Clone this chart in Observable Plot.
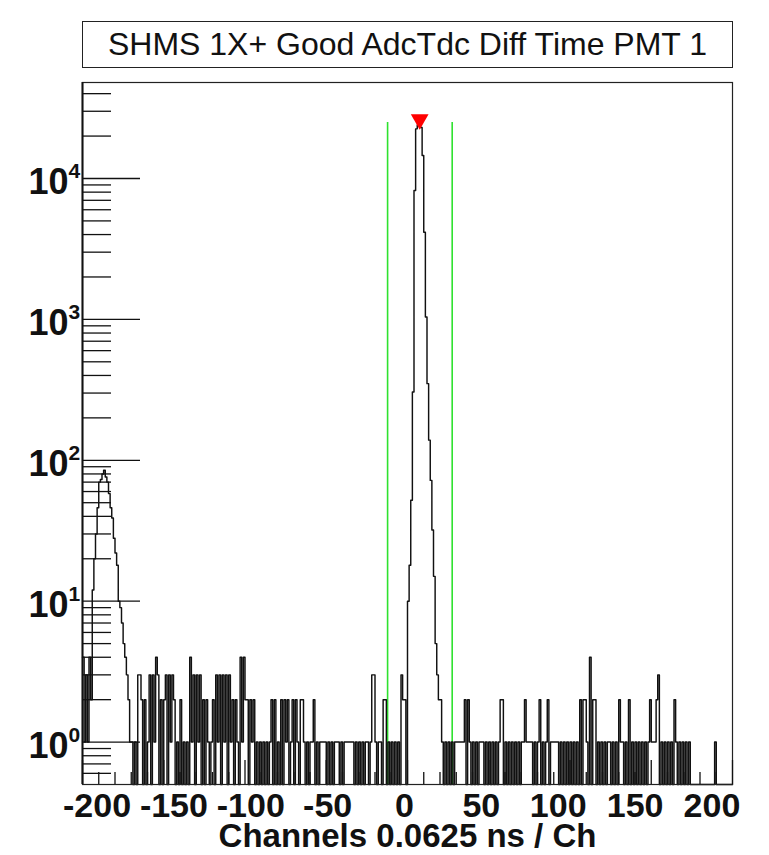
<!DOCTYPE html>
<html><head><meta charset="utf-8">
<script src="https://cdn.jsdelivr.net/npm/d3@7"></script>
<script src="https://cdn.jsdelivr.net/npm/@observablehq/plot@0.6"></script>
<style>
body{margin:0;background:#fff;font-family:"Liberation Sans",Arial,sans-serif;}
#wrap{position:relative;width:769px;height:855px;overflow:hidden;}
#title{position:absolute;left:82px;top:21px;width:651px;height:47px;box-sizing:border-box;border:1.5px solid #222;text-align:center;font-size:32px;line-height:44px;color:#111;z-index:2;background:#fff;}
#chart{position:absolute;left:0;top:0;}
</style></head><body>
<div id="wrap"><div id="title"></div><div id="chart"></div></div>
<script>
const titleText = "SHMS 1X+ Good AdcTdc Diff Time PMT 1";
const axisTitle = "Channels 0.0625 ns / Ch";
const xDomain = [-200, 200];
const binWidth = 1;
// counts per bin, bins of width 1 starting at -200
const counts = [
  4,1,3,1,4,2,12,20,30,46,             // -200..-191
  70,73,80,85,76,70,58,46,39,28,       // -190..-181
  22,18,10,9,7,5,4,3,2,1,              // -180..-171
  1,0,1,0,3,3,2,0,2,0,                 // -170..-161
  1,3,0,3,1,4,3,0,2,0,                 // -160..-151
  2,3,0,3,1,3,2,0,1,0,                 // -150..-141
  2,0,1,0,1,0,4,1,3,0,                 // -140..-131
  3,1,3,0,2,0,2,1,0,1,                 // -130..-121
  2,0,3,1,3,0,3,1,3,0,                 // -120..-111
  3,1,2,0,2,1,0,4,1,4,                 // -110..-101
  2,2,0,2,1,2,0,1,0,1,                 // -100..-91
  0,1,0,1,0,1,2,0,2,0,                 // -90..-81
  1,0,2,0,2,1,2,0,1,2,                 // -80..-71
  0,2,1,0,2,2,1,0,1,0,                 // -70..-61
  1,1,2,0,1,0,1,1,1,1,                 // -60..-51
  0,1,0,1,0,1,1,1,0,1,                 // -50..-41
  0,1,1,1,1,1,1,0,1,0,                 // -40..-31
  1,0,1,0,1,1,0,1,3,3,                 // -30..-21
  1,0,1,1,0,2,2,0,1,0,                 // -20..-11
  1,0,1,0,1,0,3,2,2,0,                 // -10..-1
  10,18,52,305,8220,22500,24000,25000,23000,14560, // 0..9
  4160,1040,350,139,72,32,15,5,3,2,    // 10..19
  2,1,0,1,0,1,0,1,0,1,                 // 20..29
  1,1,1,1,1,2,0,2,1,0,                 // 30..39
  1,0,1,0,1,1,1,0,1,0,                 // 40..49
  1,0,1,0,1,0,1,2,2,0,                 // 50..59
  1,0,1,0,1,0,1,0,1,0,                 // 60..69
  1,1,2,1,1,1,1,0,1,0,                 // 70..79
  1,2,0,1,0,1,2,0,1,1,                 // 80..89
  1,1,1,0,1,0,1,0,1,0,                 // 90..99
  1,0,1,0,1,0,2,0,2,2,                 // 100..109
  1,0,4,0,2,2,0,1,0,1,                 // 110..119
  0,1,0,1,1,0,1,0,1,0,                 // 120..129
  2,1,1,0,1,0,2,0,1,0,                 // 130..139
  1,0,1,0,1,0,1,0,1,2,                 // 140..149
  1,1,1,2,3,0,1,0,1,0,                 // 150..159
  1,0,1,0,2,1,0,1,0,1,                 // 160..169
  0,1,0,1,0,0,0,0,0,0,                 // 170..179
  0,0,0,0,0,0,0,0,0,1,                 // 180..189
  0,0,0,0,0,0,0,0,0,0                  // 190..199
];
const yDomain = [0.5, 48000];
const xTickLabels = [-200, -150, -100, -50, 0, 50, 100, 150, 200];
const xMinorTicks = d3.range(-190, 200, 10).filter(v => v % 50 !== 0);
const yDecades = [0, 1, 2, 3, 4];
const yMinorTicks = [0.6,0.7,0.8,0.9,2,3,4,5,6,7,8,9,20,30,40,50,60,70,80,90,200,300,400,500,600,700,800,900,2000,3000,4000,5000,6000,7000,8000,9000,20000,30000,40000];
const cutLines = [-12.25, 27.5];
// the tick labels in the reference sit slightly closer together than the ticks
const labelSpread = 0.946, labelShift = -1.85;

document.getElementById("title").textContent = titleText;

const W = 769, H = 855, mL = 82, mR = 37, mT = 82, mB = 71;
const fw = W - mL - mR, fh = H - mT - mB;

const steps = counts.map((c, i) => ({x: xDomain[0] + i * binWidth, y: Math.max(c, yDomain[0])}));
steps.push({x: xDomain[1], y: steps[steps.length - 1].y});
const maxCount = d3.max(counts);
const maxIdx = counts.indexOf(maxCount);
const peak = [{x: xDomain[0] + (maxIdx + 0.5) * binWidth, y: maxCount}];

const font = "Liberation Sans, Arial, sans-serif";
const chart = Plot.plot({
  width: W, height: H,
  marginLeft: mL, marginRight: mR, marginTop: mT, marginBottom: mB,
  style: {fontFamily: font, background: "transparent", color: "#111"},
  x: {domain: xDomain, axis: null},
  y: {type: "log", domain: yDomain, axis: null},
  marks: [
    Plot.ruleX(cutLines, {x: d => d, y1: yDomain[0], y2: maxCount, stroke: "#2ee22e", strokeWidth: 1.6}),
    Plot.line(steps, {x: "x", y: "y", curve: "step-after", stroke: "#111", strokeWidth: 1.45}),
    Plot.frame({stroke: "#222", strokeWidth: 1.2}),
    Plot.ruleX([xDomain[0]], {stroke: "#111", strokeWidth: 2}),
    Plot.tickY(yDecades.map(e => 10 ** e), {y: d => d, insetRight: fw - 58, stroke: "#111", strokeWidth: 1.3}),
    Plot.tickY(yMinorTicks, {y: d => d, insetRight: fw - 29, stroke: "#111", strokeWidth: 1.3}),
    Plot.tickX(xTickLabels, {x: d => d, insetTop: fh - 24, stroke: "#111", strokeWidth: 1.3}),
    Plot.tickX(xMinorTicks, {x: d => d, insetTop: fh - 12, stroke: "#111", strokeWidth: 1.3}),
    Plot.text(yDecades, {y: d => 10 ** d, text: () => "10", frameAnchor: "left", textAnchor: "end", lineAnchor: "middle", dx: -14, dy: 4, fontSize: 36, fontWeight: "bold", fill: "#111"}),
    Plot.text(yDecades, {y: d => 10 ** d, text: d => String(d), frameAnchor: "left", textAnchor: "start", lineAnchor: "middle", dx: -14, dy: -7, fontSize: 21, fontWeight: "bold", fill: "#111"}),
    Plot.text(xTickLabels, {x: d => d * labelSpread + labelShift, text: d => String(d), frameAnchor: "bottom", lineAnchor: "middle", dy: 22, fontSize: 34, fontWeight: "bold", fill: "#111"}),
    Plot.text([axisTitle], {text: d => d, frameAnchor: "bottom", lineAnchor: "middle", dy: 52, fontSize: 33, fontWeight: "bold", fill: "#111"}),
    Plot.dot(peak, {x: "x", y: "y", symbol: "triangle", rotate: 180, r: 6.6, fill: "#ff0000", stroke: "none", dy: -3})
  ]
});
document.getElementById("chart").appendChild(chart);
</script>
</body></html>
